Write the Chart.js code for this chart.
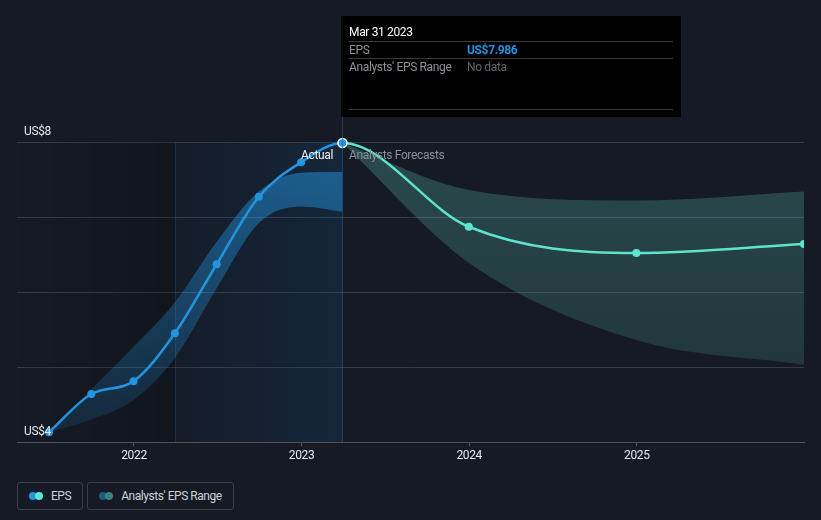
<!DOCTYPE html>
<html><head><meta charset="utf-8">
<script src="https://cdn.jsdelivr.net/npm/chart.js@4.4.0/dist/chart.umd.min.js"></script>
<style>
html,body{margin:0;padding:0;background:#151a24;width:821px;height:520px;overflow:hidden;font-family:Roboto,"Open Sans",sans-serif;}
#c{position:absolute;left:0;top:0;}
#legend{position:absolute;left:17px;top:482px;display:flex;gap:4px;}
.item{box-sizing:border-box;height:28px;border:1px solid #3a3f49;border-radius:3px;display:flex;align-items:center;padding:0 11px 0 11px;color:#cfd2d6;font-size:12px;letter-spacing:-0.45px;}
.ic{position:relative;width:14px;height:8px;margin-right:8px;}
.ic span{position:absolute;top:0;width:8px;height:8px;border-radius:50%;}
</style></head>
<body>
<canvas id="c" width="821" height="470"></canvas>
<div id="legend"></div>
<script>
// ---- data ----
const actualDates = ['2021-06-30','2021-09-30','2021-12-31','2022-03-31','2022-06-30','2022-09-30','2022-12-31','2023-03-31'];
const actualEps   = [4.13, 4.64, 4.81, 5.45, 6.37, 7.27, 7.73, 7.986];
const actualRangeHigh = [4.13, 4.70, 5.27, 5.86, 6.67, 7.34, 7.59, 7.60];
const actualRangeLow  = [4.13, 4.30, 4.56, 5.12, 6.05, 6.92, 7.14, 7.07];
const forecastDates = ['2023-12-31','2024-12-31','2025-12-31'];
const forecastEps   = [6.87, 6.52, 6.64];
const forecastRangeDates = ['2023-03-31','2023-12-31','2024-12-31','2025-12-31'];
const forecastRangeHigh  = [7.986, 7.36, 7.22, 7.34];
const forecastRangeLow   = [7.986, 6.39, 5.36, 5.03];
const xTickYears = [2022, 2023, 2024, 2025];
const yGridValues = [4, 5, 6, 7, 8];
const yTickLabels = [{v: 8, t: 'US$8'}, {v: 4, t: 'US$4'}];
const highlightStart = '2022-03-31';
const tooltipTitle = 'Mar 31 2023';
const tooltipRows = [['EPS', 'US$7.986'], ["Analysts' EPS Range", 'No data']];
const legendItems = [
  {label: 'EPS', c1: '#2394df', c2: '#5fe3cc'},
  {label: "Analysts' EPS Range", c1: '#1d5a86', c2: '#3b827c'}
];

// ---- helpers ----
function toYear(s){
  const d = Date.parse(s + 'T00:00:00Z');
  const y = new Date(d).getUTCFullYear();
  const a = Date.UTC(y,0,1), b = Date.UTC(y+1,0,1);
  return y + (d - a) / (b - a);
}
const BLUE = '#2394df', TEAL = '#5fe3cc';
const pts = (dates, vals) => dates.map((d,i) => ({x: toYear(d), y: vals[i]}));
const epsAll = pts(actualDates.concat(forecastDates), actualEps.concat(forecastEps));
const nA = actualDates.length;
const lastActualX = toYear(actualDates[nA-1]);

function vGrad(ctx, stops){
  const ch = ctx.chart, a = ch.chartArea;
  if(!a) return stops[0][1];
  const g = ch.ctx.createLinearGradient(0, a.top, 0, a.bottom);
  stops.forEach(s => g.addColorStop(s[0], s[1]));
  return g;
}

const F = 'Roboto, "Open Sans", sans-serif';
const LS = '-0.35px';

const deco = {
  id: 'deco',
  beforeDraw(chart){ chart.ctx.letterSpacing = LS; },
  beforeDatasetsDraw(chart){
    const {ctx, chartArea: a, scales: {x}} = chart;
    const hx = x.getPixelForValue(toYear(highlightStart));
    const lx = x.getPixelForValue(lastActualX);
    ctx.save();
    let g = ctx.createLinearGradient(a.left, 0, hx, 0);
    g.addColorStop(0, 'rgba(0,0,0,0)');
    g.addColorStop(1, 'rgba(0,0,0,0.16)');
    ctx.fillStyle = g;
    ctx.fillRect(a.left, a.top, hx - a.left, a.bottom - a.top);
    g = ctx.createLinearGradient(hx, 0, lx, 0);
    g.addColorStop(0, 'rgba(20,70,120,0.08)');
    g.addColorStop(1, 'rgba(25,95,160,0.19)');
    ctx.fillStyle = g;
    ctx.fillRect(hx, a.top, lx - hx, a.bottom - a.top);
    ctx.fillStyle = 'rgba(40,90,140,0.3)';
    ctx.fillRect(Math.round(hx), a.top, 1, a.bottom - a.top);
    ctx.restore();
  },
  afterDraw(chart){
    const {ctx, chartArea: a, scales: {x, y}} = chart;
    const lx = Math.round(x.getPixelForValue(lastActualX));
    ctx.save();
    ctx.letterSpacing = LS;
    // y labels
    ctx.font = '12px ' + F;
    ctx.fillStyle = '#e6e8ea';
    ctx.textBaseline = 'alphabetic';
    ctx.textAlign = 'left';
    yTickLabels.forEach(l => ctx.fillText(l.t, a.left + 7, y.getPixelForValue(l.v) - 7));
    // section labels
    ctx.textBaseline = 'middle';
    ctx.textAlign = 'right';
    ctx.fillStyle = '#f2f3f5';
    ctx.fillText('Actual', lx - 9, a.top + 13.5);
    ctx.textAlign = 'left';
    ctx.fillStyle = '#8b9098';
    ctx.fillText('Analysts Forecasts', lx + 7, a.top + 13.5);
    // tooltip
    const tx = lx - 1, ty = 16, tw = 340, th = 101;
    ctx.fillStyle = 'rgba(35,95,150,0.55)';
    ctx.fillRect(lx, ty + th, 1, a.bottom - ty - th);
    ctx.fillStyle = '#000';
    ctx.fillRect(tx, ty, tw, th);
    ctx.fillStyle = '#3a3a3a';
    [41, 58, 109].forEach(yy => ctx.fillRect(tx + 8, yy, tw - 16, 1));
    ctx.textAlign = 'left';
    ctx.fillStyle = '#ffffff';
    ctx.fillText(tooltipTitle, tx + 8, 32.5);
    ctx.fillStyle = '#8e9399';
    ctx.fillText(tooltipRows[0][0], tx + 8, 50.5);
    ctx.fillText(tooltipRows[1][0], tx + 8, 67.5);
    ctx.font = 'bold 12px ' + F;
    ctx.fillStyle = BLUE;
    ctx.fillText(tooltipRows[0][1], tx + 126, 50.5);
    ctx.font = '12px ' + F;
    ctx.fillStyle = '#62666c';
    ctx.fillText(tooltipRows[1][1], tx + 126, 67.5);
    ctx.restore();
  }
};

const clipLR = {left: 0, right: 0, top: false, bottom: false};

new Chart(document.getElementById('c'), {
  type: 'line',
  data: {
    datasets: [
      {
        data: epsAll,
        borderWidth: 2.5,
        cubicInterpolationMode: 'monotone',
        segment: { borderColor: c => c.p1DataIndex >= nA ? TEAL : BLUE },
        borderColor: BLUE,
        pointRadius: epsAll.map((p,i) => i === nA-1 ? 4.5 : 4),
        pointBackgroundColor: epsAll.map((p,i) => i < nA ? BLUE : TEAL),
        pointBorderColor: epsAll.map((p,i) => i === nA-1 ? '#ffffff' : 'rgba(0,0,0,0)'),
        pointBorderWidth: epsAll.map((p,i) => i === nA-1 ? 1.5 : 0),
        fill: false,
        clip: clipLR
      },
      {
        data: pts(actualDates, actualRangeHigh),
        borderWidth: 0, pointRadius: 0,
        cubicInterpolationMode: 'monotone',
        fill: '+1',
        backgroundColor: c => vGrad(c, [[0, 'rgba(35,148,223,0.55)'], [1, 'rgba(35,148,223,0.12)']])
      },
      {
        data: pts(actualDates, actualRangeLow),
        borderWidth: 0, pointRadius: 0,
        cubicInterpolationMode: 'monotone',
        fill: false
      },
      {
        data: pts(forecastRangeDates, forecastRangeHigh),
        borderWidth: 0, pointRadius: 0,
        cubicInterpolationMode: 'monotone',
        fill: '+1',
        backgroundColor: c => vGrad(c, [[0, 'rgba(94,196,185,0.29)'], [1, 'rgba(94,196,185,0.13)']])
      },
      {
        data: pts(forecastRangeDates, forecastRangeLow),
        borderWidth: 0, pointRadius: 0,
        cubicInterpolationMode: 'monotone',
        fill: false
      }
    ]
  },
  options: {
    responsive: false,
    animation: false,
    events: [],
    layout: {padding: {left: 17, right: 17, top: 142, bottom: 0}},
    plugins: {legend: {display: false}, tooltip: {enabled: false}},
    scales: {
      x: {
        type: 'linear',
        min: 2021.302,
        max: toYear(forecastDates[forecastDates.length-1]),
        afterBuildTicks: s => { s.ticks = xTickYears.map(v => ({value: v})); },
        afterFit: s => { s.height = 28; },
        grid: {drawOnChartArea: false, drawTicks: true, tickLength: 4, color: '#5a5f68'},
        border: {color: '#4c515a', width: 1},
        ticks: {color: '#e8eaec', font: {family: F, size: 12}, padding: 3, maxRotation: 0, callback: v => String(v)}
      },
      y: {
        min: 4, max: 8,
        afterBuildTicks: s => { s.ticks = yGridValues.map(v => ({value: v})); },
        afterFit: s => { s.width = 0; },
        grid: {color: '#353a44', drawTicks: false, lineWidth: 1},
        border: {display: false},
        ticks: {display: false}
      }
    }
  },
  plugins: [deco]
});

// legend
const lg = document.getElementById('legend');
legendItems.forEach(it => {
  const d = document.createElement('div');
  d.className = 'item';
  d.innerHTML = '<div class="ic"><span style="left:0;background:' + it.c1 + '"></span><span style="left:5.5px;background:' + it.c2 + '"></span></div>' + it.label;
  lg.appendChild(d);
});
</script>
</body></html>
